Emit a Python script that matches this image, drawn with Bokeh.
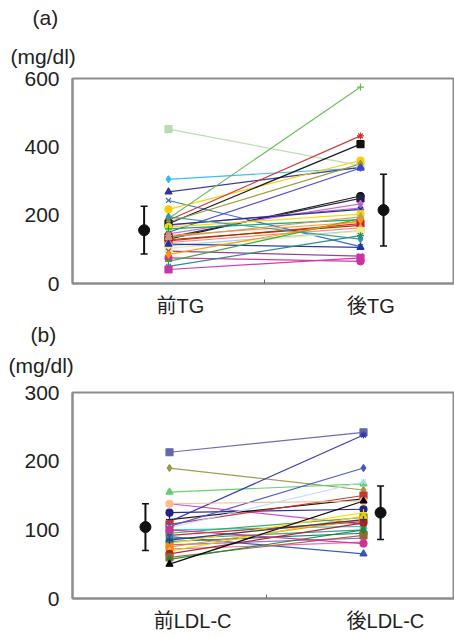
from bokeh.plotting import figure
from bokeh.models import Range1d, FixedTicker, Title, ColumnDataSource, Whisker, TeeHead
from bokeh.layouts import column
from bokeh.embed import file_html
from bokeh.resources import INLINE

# ---------------- data ----------------
tg_categories = ["前TG", "後TG"]
tg_pre = [452, 305, 268, 243, 217, 190, 185, 175, 180, 150, 130, 135, 145, 170, 172, 165,
          160, 140, 125, 128, 120, 110, 103, 195, 115, 95, 75, 65, 50, 41, 85, 135]
tg_post = [345, 338, 340, 108, 360, 575, 432, 408, 350, 338, 256, 249, 233, 221, 217, 203,
           187, 180, 175, 170, 163, 155, 153, 130, 106, 80, 65, 190, 140, 75, 185, 195]
tg_mean = [156, 215]
tg_sd = [70, 105]
tg_ticks = [0, 200, 400, 600]

ldl_categories = ["前LDL-C", "後LDL-C"]
ldl_pre = [213, 190, 155, 138, 125, 115, 112, 108, 105, 100, 138, 95, 92, 90, 87, 83,
           80, 78, 75, 72, 69, 65, 60, 57, 50, 103, 100, 85]
ldl_post = [242, 158, 167, 108, 130, 145, 238, 150, 190, 105, 142, 118, 112, 65, 100, 95,
            125, 88, 115, 82, 120, 110, 92, 100, 142, 170, 80, 115]
ldl_mean = [104, 125]
ldl_sd = [34, 39]
ldl_ticks = [0, 100, 200, 300]

# ---------------- styles ----------------
palette_a = ["#b8dcb0", "#33bbee", "#333399", "#3366cc", "#ffcc00", "#66bb55", "#cc3333", "#111111",
             "#999933", "#4444cc", "#111111", "#222244", "#cc66cc", "#9966cc", "#222288", "#eedd00",
             "#00aa66", "#ff9933", "#dd2222", "#993300", "#ff8866", "#99ccff", "#eeee88", "#339999",
             "#2233aa", "#993399", "#cc3399", "#33aa33", "#228888", "#cc33aa", "#ff9900", "#cc9966"]
palette_b = ["#6666aa", "#999944", "#66cc66", "#cc44cc", "#222288", "#111111", "#3333aa", "#cc3333",
             "#4455cc", "#33cccc", "#ffbb88", "#33aa55", "#cc2222", "#3355bb", "#339999", "#117777",
             "#ffdd00", "#9966cc", "#ff8800", "#ee66aa", "#eecc00", "#aa2222", "#996633", "#228833",
             "#000000", "#bbddff", "#cc3399", "#333377"]
markers = ["square", "diamond", "triangle", "x", "circle", "cross", "asterisk", "square", "diamond",
           "triangle", "circle"]

FONT = "'Liberation Sans', 'Noto Sans CJK JP'"
GRAY = "#8c8c8c"


def head_title(text, offset, standoff, valign="bottom", size="21px"):
    return Title(text=text, align="left", offset=offset, vertical_align=valign,
                 text_font_size=size, text_font_style="normal", text_font=FONT,
                 text_color="#222222", standoff=standoff)


def make_panel(letter, cats, pre, post, mean, sd, ticks, palette, height, width,
               border_left, border_top, x_end, lab_pos, mean_x, heads):
    p = figure(width=width, height=height, output_backend="svg", toolbar_location=None,
               x_range=Range1d(0, x_end), y_range=Range1d(ticks[0], ticks[-1]),
               min_border_left=border_left, min_border_right=0, min_border_top=border_top,
               min_border_bottom=10)
    spacer, unit_so, unit_va, letter_so, letter_va = heads
    if spacer:
        p.add_layout(head_title(" ", 0, spacer, size="1px"), "above")
    p.add_layout(head_title("(mg/dl)", 8 - border_left, unit_so, unit_va), "above")
    p.add_layout(head_title(letter, 30 - border_left, letter_so, letter_va), "above")
    p.xgrid.visible = False
    p.ygrid.visible = False
    p.outline_line_color = GRAY
    p.outline_line_width = 2
    p.background_fill_color = "white"
    p.border_fill_color = "white"

    # y axis
    p.yaxis.ticker = FixedTicker(ticks=ticks, minor_ticks=[])
    p.yaxis.major_tick_line_color = None
    p.yaxis.axis_line_color = GRAY
    p.yaxis.axis_line_width = 2
    p.yaxis.major_label_text_font = FONT
    p.yaxis.major_label_text_font_size = "21px"
    p.yaxis.major_label_text_color = "#222222"
    p.yaxis.major_label_standoff = 7

    # x axis: category labels, middle divider tick
    p.xaxis.ticker = FixedTicker(ticks=lab_pos, minor_ticks=[1.0])
    p.xaxis.major_label_overrides = {lab_pos[0]: cats[0], lab_pos[1]: cats[1]}
    p.xaxis.major_tick_line_color = None
    p.xaxis.minor_tick_line_color = "#666666"
    p.xaxis.minor_tick_in = 4
    p.xaxis.minor_tick_out = 0
    p.xaxis.major_tick_out = 0
    p.xaxis.axis_line_color = GRAY
    p.xaxis.axis_line_width = 2
    p.xaxis.major_label_text_font = FONT
    p.xaxis.major_label_text_font_size = "20px"
    p.xaxis.major_label_text_color = "#222222"
    p.xaxis.major_label_standoff = 11

    n = len(pre)
    cols = [palette[i % len(palette)] for i in range(n)]
    mk = [markers[i % len(markers)] for i in range(n)]
    src = ColumnDataSource(dict(xs=[[0.5, 1.5] for _ in range(n)],
                                ys=[[a, b] for a, b in zip(pre, post)], color=cols))
    p.multi_line("xs", "ys", source=src, line_color="color", line_width=1.2, line_alpha=0.95)
    pts = ColumnDataSource(dict(x=[0.5] * n + [1.5] * n, y=list(pre) + list(post),
                                color=cols + cols, marker=mk + mk))
    p.scatter("x", "y", source=pts, marker="marker", size=7, line_color="color",
              fill_color="color", line_width=1.2)

    msrc = ColumnDataSource(dict(x=mean_x, y=mean,
                                 upper=[m + s for m, s in zip(mean, sd)],
                                 lower=[m - s for m, s in zip(mean, sd)]))
    w = Whisker(source=msrc, base="x", upper="upper", lower="lower", dimension="height",
                line_color="#111111", line_width=2,
                upper_head=TeeHead(size=7, line_color="#111111", line_width=1.5),
                lower_head=TeeHead(size=7, line_color="#111111", line_width=1.5))
    p.add_layout(w)
    p.scatter("x", "y", source=msrc, marker="circle", size=11, color="#111111")
    return p


pa = make_panel("(a)", tg_categories, tg_pre, tg_post, tg_mean, tg_sd, tg_ticks, palette_a,
                height=319, width=454, border_left=70, border_top=78,
                x_end=384 / 193, lab_pos=[0.562, 1.554], mean_x=[0.373, 1.62],
                heads=(0, 21, "bottom", 7, "bottom"))
pb = make_panel("(b)", ldl_categories, ldl_pre, ldl_post, ldl_mean, ldl_sd, ldl_ticks, palette_b,
                height=315, width=454, border_left=72, border_top=73,
                x_end=382 / 194, lab_pos=[0.619, 1.613], mean_x=[0.376, 1.588],
                heads=(12.5, 0, "bottom", 7, "top"))

layout = column(pa, pb)
open("out.html", "w").write(file_html(layout, INLINE))
